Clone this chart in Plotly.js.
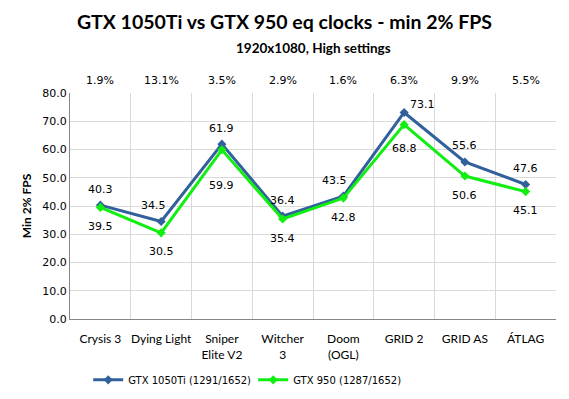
<!DOCTYPE html>
<html><head><meta charset="utf-8">
<script src="https://cdn.plot.ly/plotly-3.0.1.min.js"></script>
<style>body{margin:0;background:#fff}#chart{width:569px;height:399px}</style>
</head><body><div id="chart"></div>
<script>
const categories = ["Crysis 3", "Dying Light", "Sniper<br>Elite V2", "Witcher<br>3", "Doom<br>(OGL)", "GRID 2", "GRID AS", "ÁTLAG"];
const gtx1050ti = [40.3, 34.5, 61.9, 36.4, 43.5, 73.1, 55.6, 47.6];
const gtx950 = [39.5, 30.5, 59.9, 35.4, 42.8, 68.8, 50.6, 45.1];
const diffLabels = ["1.9%", "13.1%", "3.5%", "2.9%", "1.6%", "6.3%", "9.9%", "5.5%"];
const seriesNames = ["GTX 1050Ti (1291/1652)", "GTX 950 (1287/1652)"];

// label placement styles (pixel offsets), per point index
const blueShift = {1: [-8, 16], 4: [-9, 16], 5: [18, 8]};
const greenShift = {2: [0, -36], 5: [0, -24]};

const labelFont = {family: "DejaVu Sans, Verdana, sans-serif", size: 11, color: "#000"};
const traces = [
  {x: categories, y: gtx1050ti, name: seriesNames[0], type: "scatter", mode: "lines+markers",
   line: {color: "#31609b", width: 3}, marker: {symbol: "diamond", size: 7, color: "#31609b"}, cliponaxis: false},
  {x: categories, y: gtx950, name: seriesNames[1], type: "scatter", mode: "lines+markers",
   line: {color: "#11ee11", width: 3}, marker: {symbol: "diamond", size: 7, color: "#11ee11"}, cliponaxis: false}
];
const annotations = categories.map((c, i) => ({
  x: c, y: 1, xref: "x", yref: "paper", yanchor: "bottom", yshift: 4,
  text: diffLabels[i], showarrow: false, font: labelFont
}));
categories.forEach((c, i) => {
  const b = blueShift[i] || [0, 16];
  const g = greenShift[i] || [0, -19];
  annotations.push({x: c, y: gtx1050ti[i], xref: "x", yref: "y", yanchor: "middle", xshift: b[0], yshift: b[1],
    text: gtx1050ti[i].toFixed(1), showarrow: false, font: labelFont});
  annotations.push({x: c, y: gtx950[i], xref: "x", yref: "y", yanchor: "middle", xshift: g[0], yshift: g[1],
    text: gtx950[i].toFixed(1), showarrow: false, font: labelFont});
});
annotations.push({x: 0.5, xref: "paper", y: 1, yref: "paper", yshift: 45, yanchor: "middle",
  text: "<b>1920x1080, High settings</b>", showarrow: false,
  font: {family: "Lato, sans-serif", size: 13.5, color: "#000"}});
const layout = {
  width: 569, height: 399,
  margin: {l: 70, r: 13, t: 93, b: 80},
  paper_bgcolor: "#fff", plot_bgcolor: "#fff",
  title: {text: "<b>GTX 1050Ti vs GTX 950 eq clocks - min 2% FPS</b>", x: 0.5, xanchor: "center", y: 0.945, yanchor: "middle",
    font: {family: "Lato, sans-serif", size: 19.5, color: "#000"}},
  showlegend: true,
  legend: {orientation: "h", xref: "container", x: 0.155, xanchor: "left", yref: "container", y: 0.048, yanchor: "middle",
    font: {family: "DejaVu Sans, Verdana, sans-serif", size: 10, color: "#000"},
    entrywidth: 120, entrywidthmode: "pixels", tracegroupgap: 0},
  xaxis: {type: "category", tickson: "boundaries", showgrid: true, gridcolor: "#d9d9d9", gridwidth: 1,
    showline: true, linecolor: "#868686", linewidth: 1, mirror: false, ticks: "", tickangle: 0, automargin: false,
    ticklabelstandoff: 9,
    tickfont: {family: "Lato, sans-serif", size: 12, color: "#000"}, range: [-0.5, 7.5], fixedrange: true},
  yaxis: {range: [0, 80], dtick: 10, tickformat: ".1f", showgrid: true, gridcolor: "#d9d9d9", automargin: false,
    showline: true, linecolor: "#868686", linewidth: 1, ticks: "", zeroline: false,
    tickfont: {family: "DejaVu Sans, Verdana, sans-serif", size: 11, color: "#000"},
    title: {text: "<b>Min 2% FPS</b>", font: {family: "Lato, sans-serif", size: 12, color: "#000"}, standoff: 8}},
  annotations: annotations
};
Plotly.newPlot("chart", traces, layout, {displayModeBar: false, staticPlot: true});
</script></body></html>
